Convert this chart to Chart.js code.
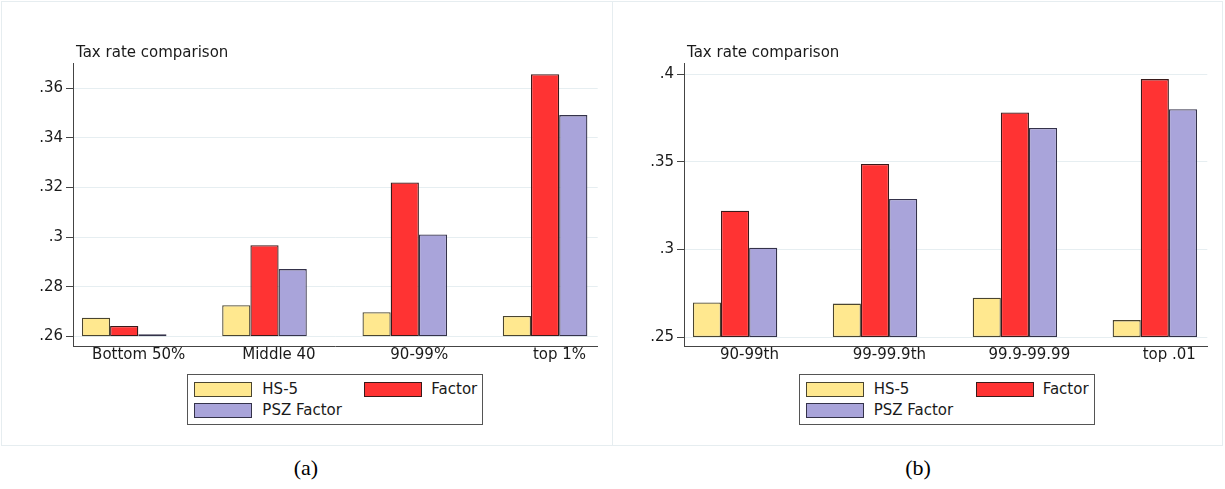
<!DOCTYPE html>
<html>
<head>
<meta charset="utf-8">
<title>Tax rate comparison</title>
<script src="https://cdn.jsdelivr.net/npm/chart.js@4.4.1/dist/chart.umd.min.js"></script>
<style>
  html, body { margin: 0; padding: 0; background: #fff; }
  body { width: 1225px; height: 489px; position: relative; overflow: hidden; font-family: 'DejaVu Sans', sans-serif; color: #1a1a1a; }
  .frame { position: absolute; left: 1px; top: 1px; width: 1222px; height: 445px; box-sizing: border-box; border: 1px solid #e6edf0; }
  .divider { position: absolute; left: 612px; top: 1px; width: 1px; height: 445px; background: #e6edf0; }
  .panel { position: absolute; top: 0; width: 612px; height: 372px; }
  .legend { position: absolute; top: 374px; width: 296px; height: 51px; box-sizing: border-box; border: 1px solid #555; background: #fff; }
  .legend .sw { position: absolute; width: 58px; height: 15px; box-sizing: border-box; border: 1px solid #333; }
  .legend .lb { position: absolute; font-size: 15px; line-height: 18px; white-space: nowrap; }
  .cap { position: absolute; top: 455px; width: 612px; text-align: center; font: 22px 'Liberation Serif', serif; color: #000; }
</style>
</head>
<body>
<div class="frame"></div>
<div class="divider"></div>
<div class="panel" style="left:0"><canvas id="chartA"></canvas></div>
<div class="panel" style="left:612px"><canvas id="chartB"></canvas></div>
<div class="legend" id="legendA"></div>
<div class="legend" id="legendB"></div>
<div class="cap" style="left:0">(a)</div>
<div class="cap" style="left:612px">(b)</div>

<script>
// panel (a): income groups
const catsA = ['Bottom 50%', 'Middle 40', '90-99%', 'top 1%'];
const hs5A = [0.2675, 0.2725, 0.2697, 0.2682];
const factorA = [0.2642, 0.2967, 0.3220, 0.3657];
const pszA = [0.2602, 0.2871, 0.3011, 0.3492];
const ticksA = [0.26, 0.28, 0.30, 0.32, 0.34, 0.36];
const baseA = 0.26;

// panel (b): top percentiles
const catsB = ['90-99th', '99-99.9th', '99.9-99.99', 'top .01'];
const hs5B = [0.2697, 0.2691, 0.2725, 0.2597];
const factorB = [0.3222, 0.3488, 0.3782, 0.3973];
const pszB = [0.3010, 0.3289, 0.3694, 0.3801];
const ticksB = [0.25, 0.30, 0.35, 0.40];
const baseB = 0.25;

const seriesNames = ['HS-5', 'Factor', 'PSZ Factor'];
const fillColors = ['#ffe88f', '#ff3333', '#a9a4da'];
const edgeColors = ['#4a4530', '#3a1a1a', '#34324a'];

Chart.defaults.font.family = "'DejaVu Sans', sans-serif";
Chart.defaults.font.size = 15;
Chart.defaults.color = '#1a1a1a';

// Stata style tick labels: .26, .3
const fmt = v => String(+v.toFixed(4)).replace(/^0\./, '.');

const titlePlugin = {
  id: 'panelTitle',
  afterDraw(chart, args, opts) {
    const { ctx, chartArea } = chart;
    ctx.save();
    ctx.font = "15px 'DejaVu Sans', sans-serif";
    ctx.fillStyle = '#1a1a1a';
    ctx.textBaseline = 'middle';
    ctx.fillText(opts.text, chartArea.left + 3, chartArea.top - 10);
    ctx.restore();
  }
};

function makeChart(id, cats, series, base, ticks, yMin, yMax, yWidth, padRight) {
  const datasets = series.map((vals, k) => ({
    label: seriesNames[k],
    data: vals.map((v, i) => ({ x: i, y: [base, v] })),
    backgroundColor: fillColors[k],
    borderColor: edgeColors[k],
    borderWidth: 1.3,
    borderSkipped: false,
    minBarLength: 2,
    categoryPercentage: 0.603,
    barPercentage: 1.0
  }));

  return new Chart(document.getElementById(id), {
    type: 'bar',
    data: { datasets },
    options: {
      responsive: true,
      maintainAspectRatio: false,
      animation: false,
      layout: { padding: { left: 0, top: 63, right: padRight, bottom: 0 } },
      plugins: {
        legend: { display: false },
        tooltip: { enabled: false },
        panelTitle: { text: 'Tax rate comparison' }
      },
      scales: {
        x: {
          type: 'linear',
          offset: false,
          min: -0.365,
          max: 3.375,
          grid: { display: false, drawTicks: false, offset: false },
          border: { display: true, color: '#444', width: 1 },
          afterBuildTicks: s => { s.ticks = cats.map((c, i) => ({ value: i + 0.103 })); },
          afterFit: s => { s.height = 26; },
          ticks: {
            padding: 0,
            maxRotation: 0,
            autoSkip: false,
            callback: (v, i) => cats[i]
          }
        },
        y: {
          min: yMin,
          max: yMax,
          beginAtZero: false,
          grid: { color: '#e6eef1', tickColor: '#444', tickLength: 7, lineWidth: 1 },
          border: { display: true, color: '#444', width: 1 },
          afterBuildTicks: s => { s.ticks = ticks.map(v => ({ value: v })); },
          afterFit: s => { s.width = yWidth; },
          ticks: { padding: 3, callback: v => fmt(v) }
        }
      }
    },
    plugins: [titlePlugin]
  });
}

function buildLegend(elId, chart, panelLeft) {
  const el = document.getElementById(elId);
  const area = chart.chartArea;
  el.style.left = (panelLeft + (area.left + area.right) / 2 - 148) + 'px';
  const spots = [
    { sx: 6, tx: 74, sy: 7, ty: 5 },
    { sx: 176, tx: 243, sy: 7, ty: 5 },
    { sx: 6, tx: 74, sy: 28, ty: 26 }
  ];
  chart.data.datasets.forEach((ds, k) => {
    const p = spots[k];
    const sw = document.createElement('div');
    sw.className = 'sw';
    sw.style.left = p.sx + 'px';
    sw.style.top = p.sy + 'px';
    sw.style.background = ds.backgroundColor;
    sw.style.borderColor = ds.borderColor;
    const lb = document.createElement('div');
    lb.className = 'lb';
    lb.style.left = p.tx + 'px';
    lb.style.top = p.ty + 'px';
    lb.textContent = ds.label;
    el.appendChild(sw);
    el.appendChild(lb);
  });
}

const chartA = makeChart('chartA', catsA, [hs5A, factorA, pszA], baseA, ticksA, 0.2561, 0.3702, 73, 14.3);
const chartB = makeChart('chartB', catsB, [hs5B, factorB, pszB], baseB, ticksB, 0.2449, 0.4065, 72, 16.7);
buildLegend('legendA', chartA, 0);
buildLegend('legendB', chartB, 613);
</script>
</body>
</html>
